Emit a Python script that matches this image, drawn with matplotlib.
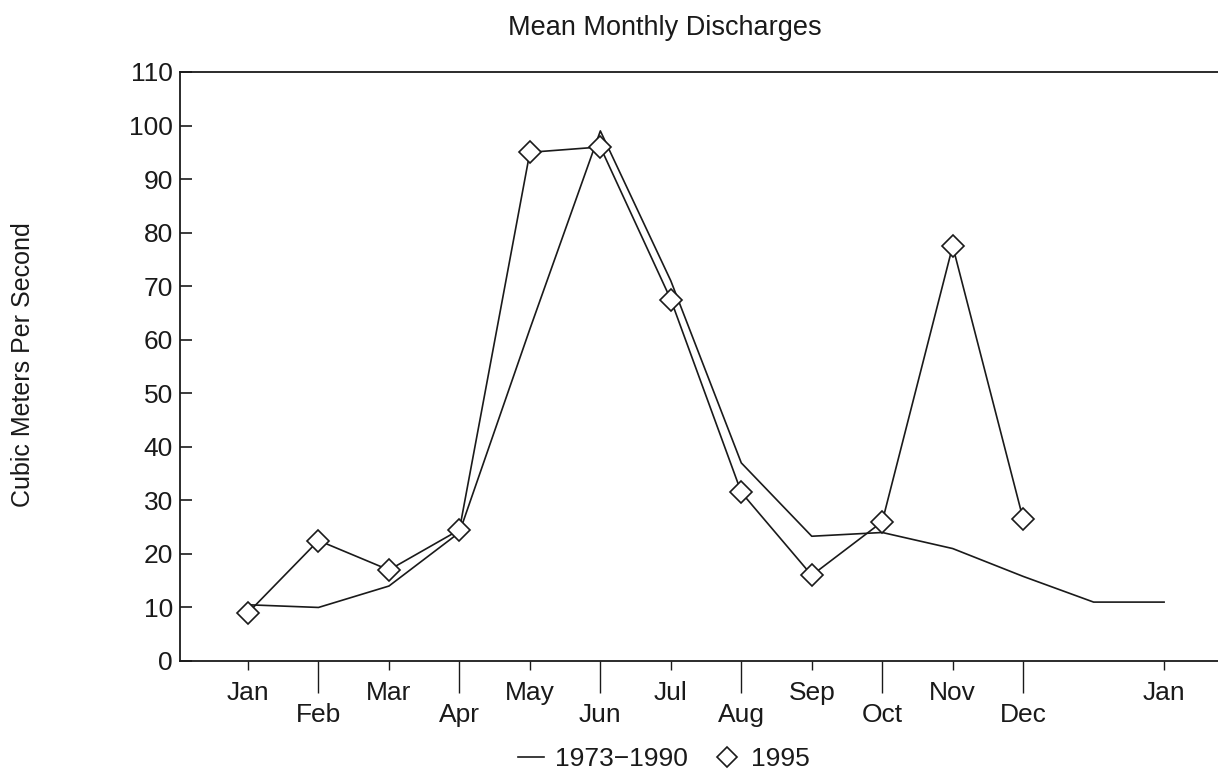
import matplotlib.pyplot as plt
from matplotlib.lines import Line2D
import numpy as np

plt.rcParams['font.family'] = ['Liberation Sans', 'DejaVu Sans']

# month positions (0 = Jan ... 11 = Dec, 13 = Jan of next year)
long_pos = [0, 1, 2, 3, 4, 5, 6, 7, 8, 9, 10, 11, 12, 13]
long_term = [10.5, 10, 14, 24, 62, 99, 71, 37, 23.3, 24, 21, 15.8, 11, 11]

y1995_pos = [0, 1, 2, 3, 4, 5, 6, 7, 8, 9, 10, 11]
y1995 = [9, 22.5, 17, 24.5, 95, 96, 67.5, 31.5, 16, 26, 77.5, 26.5]

upper_ticks = [0, 2, 4, 6, 8, 10, 13]
upper_labels = ['Jan', 'Mar', 'May', 'Jul', 'Sep', 'Nov', 'Jan']
lower_ticks = [1, 3, 5, 7, 9, 11]
lower_labels = ['Feb', 'Apr', 'Jun', 'Aug', 'Oct', 'Dec']

ink = '#1a1a1a'

fig = plt.figure(figsize=(12.18, 7.75), dpi=100)
ax = fig.add_axes([0.1478, 0.1471, 0.86, 0.760])

ax.plot(long_pos, long_term, color=ink, lw=1.2)
ax.plot(y1995_pos, y1995, color=ink, lw=1.2, marker='D', ms=11,
        mfc='white', mec=ink, mew=1.2)

ax.set_xlim(-0.965, 13.9)
ax.set_ylim(0, 110)

ax.spines['right'].set_visible(False)
for s in ['left', 'bottom', 'top']:
    ax.spines[s].set_linewidth(1.3)
    ax.spines[s].set_color(ink)

ax.set_yticks(np.arange(0, 111, 10))
ax.tick_params(axis='y', direction='in', length=8.5, width=1.2, pad=5,
               labelsize=19, colors=ink)

ax.set_xticks(upper_ticks, upper_labels)
ax.set_xticks(lower_ticks, lower_labels, minor=True)
ax.tick_params(axis='x', which='major', direction='out', length=6.5,
               width=1.0, pad=8, labelsize=19, colors=ink)
ax.tick_params(axis='x', which='minor', direction='out', length=23,
               width=1.0, pad=7, labelsize=19, colors=ink)

fig.text(0.546, 0.964, 'Mean Monthly Discharges', ha='center', va='center',
         fontsize=19.5, color=ink)
fig.text(0.019, 0.53, 'Cubic Meters Per Second', rotation=90, ha='center',
         va='center', fontsize=18, color=ink)

handles = [Line2D([], [], color=ink, lw=1.2),
           Line2D([], [], color=ink, ls='none', marker='D', ms=10,
                  mfc='white', mew=1.2)]
fig.legend(handles, ['1973\u22121990', '1995'], loc='center',
           bbox_to_anchor=(0.545, 0.02), ncol=2, frameon=False,
           fontsize=19, handlelength=1.0, handletextpad=0.4,
           columnspacing=1.0, labelcolor=ink)

fig.savefig('out.png', dpi=100)
